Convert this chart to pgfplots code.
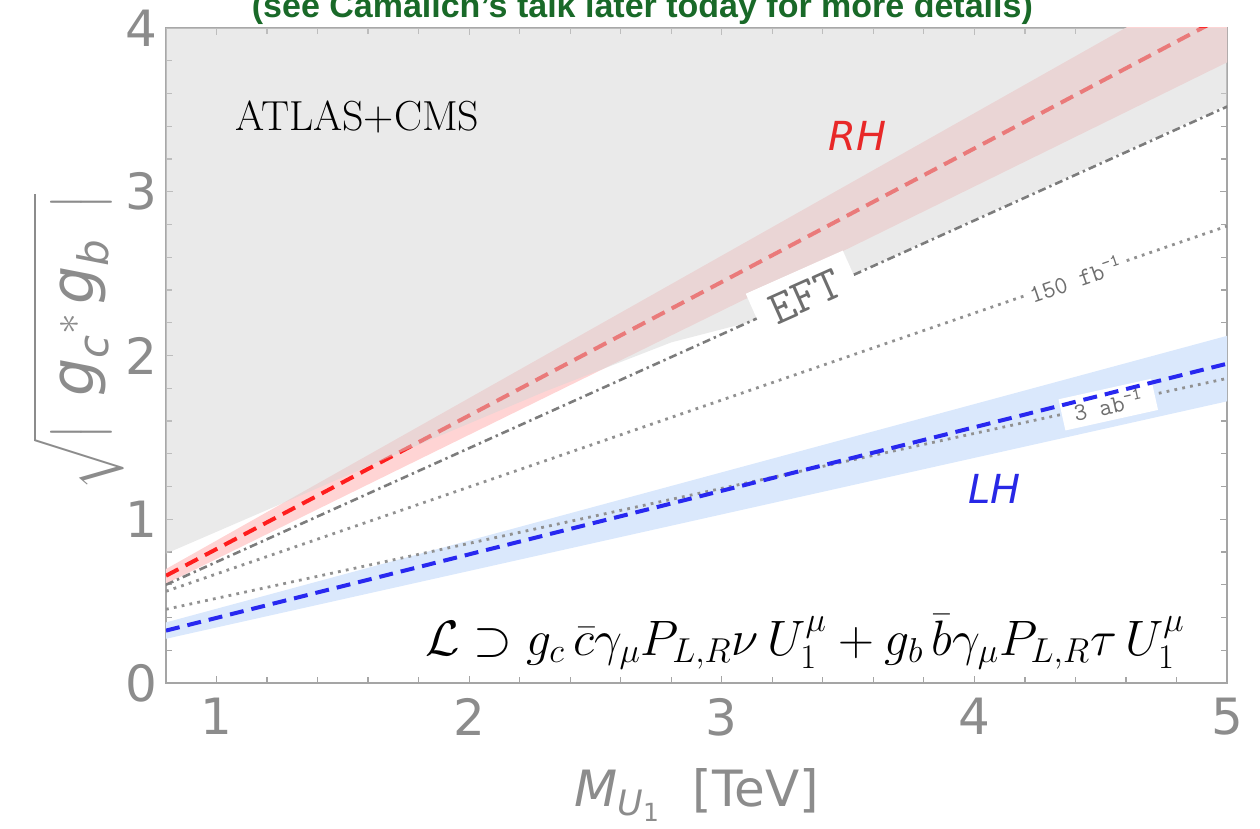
\documentclass[border=0pt]{standalone}
\usepackage{fontspec}
\setsansfont{DejaVu Sans}
\newfontfamily\arialfont{Liberation Sans}
\usepackage{amsmath}
\usepackage{pgfplots}
\pgfplotsset{compat=1.18}
\definecolor{tickgray}{RGB}{140,140,140}
\definecolor{framegray}{RGB}{165,165,165}
\definecolor{bandred}{RGB}{255,212,212}
\definecolor{linered}{RGB}{255,30,30}
\definecolor{bandblue}{RGB}{218,232,252}
\definecolor{lineblue}{RGB}{40,40,240}
\definecolor{titlegreen}{RGB}{25,105,40}
\definecolor{lgray}{RGB}{110,110,110}
\definecolor{dotgray}{RGB}{145,145,145}
\definecolor{rhred}{RGB}{232,40,40}
\definecolor{lhblue}{RGB}{40,40,230}
\begin{document}
\begin{tikzpicture}
\begin{axis}[name=ax, scale only axis, width=530.5pt, height=327.5pt,
  xmin=0.8, xmax=5, ymin=0, ymax=4,
  xtick={1,2,3,4,5}, ytick={0,1,2,3,4},
  xticklabels={1,2,3,4,5}, yticklabels={0,1,2,3,4},
  minor x tick num=4, minor y tick num=4,
  tick align=inside, major tick length=3.5pt, minor tick length=3pt,
  axis line style={framegray, line width=1pt},
  tick style={framegray, line width=0.6pt},
  ticklabel style={font=\fontsize{25}{25}\sffamily, text=tickgray},
  xticklabel style={yshift=-4pt}, yticklabel style={xshift=-1pt},
  xlabel={$\text{\itshape M}_{\text{\itshape U}_{\text{1}}}$\ \ [TeV]},
  xlabel style={font=\fontsize{25}{25}\sffamily, text=tickgray, at={(axis description cs:0.5,0)}, anchor=center, yshift=-56pt},
  ylabel={$\sqrt{\left|\;\;\text{\itshape g}_{\text{\itshape c}}{}^{*}\,\text{\itshape g}_{\text{\itshape b}}\;\;\right|}$},
  ylabel style={font=\fontsize{30}{34}\sffamily, text=tickgray, at={(axis description cs:0,0.52)}, anchor=center, yshift=44pt},
  clip mode=individual,
]
% bands
\addplot[draw=none, fill=bandred] coordinates {(0.8,0.606) (5,3.79) (5,4.35) (0.8,0.696)} --cycle;
\addplot[draw=none, fill=bandblue] coordinates {(0.8,0.27) (5,1.72) (5,2.12) (0.8,0.37)} --cycle;
% RH line
\addplot[linered, line width=2pt, dash pattern=on 7pt off 4pt] coordinates {(0.8,0.655) (5,4.08)};
% excluded region (ATLAS+CMS)
\addplot[draw=none, fill=black!16, fill opacity=0.5] coordinates {(0.8,0.79) (1.7,1.39) (2.3,1.78) (2.8,2.08) (3.1,2.2) (5,3.53) (5,4) (0.8,4)} --cycle;
% EFT, 150 fb-1, 3 ab-1
\addplot[lgray!90, line width=1.3pt, dash pattern=on 4pt off 2pt on 1.2pt off 2pt] coordinates {(0.8,0.6) (5,3.52)};
\addplot[dotgray, line width=1.4pt, dash pattern=on 1.4pt off 2.6pt] coordinates {(0.8,0.56) (5,2.79)};
\addplot[dotgray, line width=1.4pt, dash pattern=on 1.4pt off 2.6pt] coordinates {(0.8,0.45) (5,1.86)};
\node[fill=white, rotate=24, font=\fontsize{24}{24}\ttfamily, text=lgray, inner xsep=8pt, inner ysep=6pt] at (axis cs:3.33,2.36) {EFT};
\node[fill=white, rotate=19, font=\fontsize{12.5}{12.5}\ttfamily, text=lgray, inner sep=2pt] at (axis cs:4.40,2.47) {150 fb\textsuperscript{-1}};
\node[fill=white, rotate=12.5, font=\fontsize{12.5}{12.5}\ttfamily, text=lgray, inner xsep=6pt, inner ysep=3pt] at (axis cs:4.53,1.70) {3 ab\textsuperscript{-1}};
% LH line
\addplot[lineblue, line width=2pt, dash pattern=on 7pt off 4pt] coordinates {(0.8,0.32) (5,1.95)};
% texts
\node[text=rhred, font=\fontsize{20}{20}\sffamily\itshape] at (axis cs:3.538,3.34) {RH};
\node[text=lhblue, font=\fontsize{20}{20}\sffamily\itshape] at (axis cs:4.08,1.185) {LH};
\node[font=\fontsize{21}{21}\selectfont] at (axis cs:1.557,3.456) {ATLAS+CMS};
\node[font=\fontsize{24.5}{28}\selectfont] at (axis cs:3.33,0.25) {$\mathcal{L}\supset g_c\,\bar{c}\gamma_\mu P_{L,R}\nu\,U_1^\mu+g_b\,\bar{b}\gamma_\mu P_{L,R}\tau\,U_1^\mu$};
\node[anchor=base, yshift=5pt, font=\arialfont\bfseries\fontsize{17}{17}\selectfont, text=titlegreen] at (rel axis cs:0.449,1) {(see Camalich’s talk later today for more details)};
\end{axis}
\pgfresetboundingbox
\path ([xshift=-83pt,yshift=-72.5pt]ax.south west) rectangle ([xshift=16.5pt,yshift=14pt]ax.north east);
\end{tikzpicture}
\end{document}
